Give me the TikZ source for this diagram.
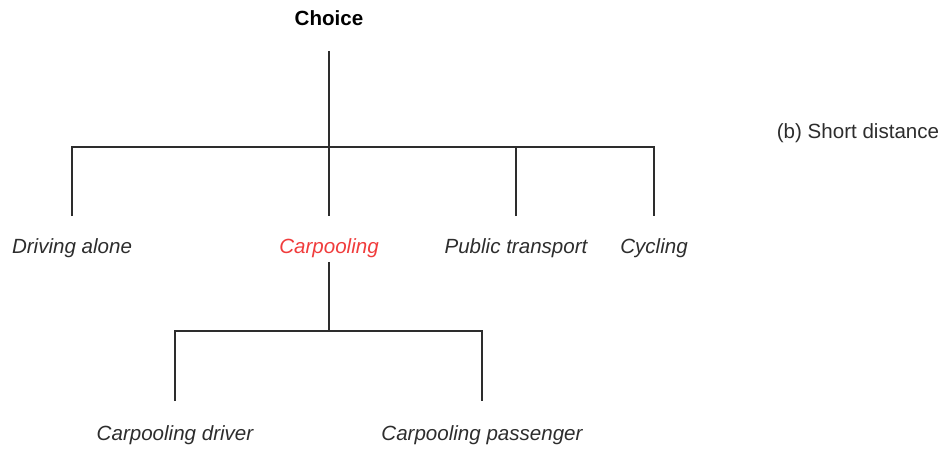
\documentclass[tikz,border=0pt]{standalone}
\usepackage{fontspec}
\setmainfont{Liberation Sans}
\usepackage{tikz}
\definecolor{poolred}{RGB}{240, 60, 60}
\definecolor{treegray}{RGB}{45, 45, 45}

\begin{document}
\begin{tikzpicture}[x=0.02cm, y=-0.02cm,
        alt/.style={inner sep=0pt, text=treegray, font=\fontsize{11.7}{14}\selectfont\itshape},
        link/.style={draw=treegray, line width=1.1pt}]
        \useasboundingbox (0,0) rectangle (942,454);

        % root and side label
        \node[inner sep=0pt, font=\fontsize{11.7}{14}\selectfont\bfseries] (choice) at (329,18) {Choice};
        \node[inner sep=0pt, text=treegray, font=\fontsize{11.7}{14}\selectfont] (dist) at (858,133) {(b) Short distance};

        % first level
        \node[alt] (alone) at (72,248) {Driving alone};
        \node[alt, text=poolred] (carpool) at (329,248) {Carpooling};
        \node[alt] (public) at (516,248) {Public transport};
        \node[alt] (cycle) at (654,248) {Cycling};

        % second level
        \node[alt] (driver) at (175,435) {Carpooling driver};
        \node[alt] (passenger) at (482,435) {Carpooling passenger};

        \coordinate (bus1) at (329,147);
        \coordinate (bus2) at (329,331);

        \draw[link, shorten <=0.5cm, shorten >=0.44cm] (choice) -- (carpool);
        \draw[link, shorten <=0.44cm, shorten >=0.44cm] (alone) |- (bus1) -| (cycle);
        \draw[link, shorten <=0.44cm] (public) -- (public |- bus1);

        \draw[link, shorten <=0.08cm] (carpool) -- (bus2);
        \draw[link, shorten <=0.48cm, shorten >=0.48cm] (driver) |- (bus2) -| (passenger);
    \end{tikzpicture}
\end{document}
